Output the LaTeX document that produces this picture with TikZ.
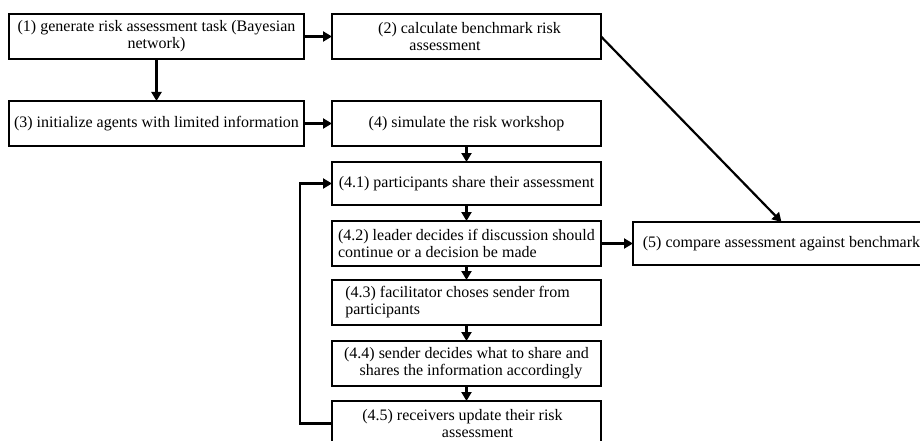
\documentclass[tikz,border=0pt]{standalone}
\usepackage{fontspec}
\setmainfont{Liberation Serif}
\usetikzlibrary{arrows.meta}
\tikzset{
  box/.style={draw=black, line width=2.2pt, fill=white, rectangle, inner sep=0pt, outer sep=0pt,
    minimum height=45pt, font=\fontsize{16}{17}\selectfont},
  arr/.style={draw=black, line width=2.2pt, -{Triangle[length=9pt,width=10pt]}}
}
\begin{document}
\begin{tikzpicture}[x=1pt,y=-1pt]
\useasboundingbox (0,0) rectangle (920,441);
\clip (0,0) rectangle (920,441);
\fill[white] (0,0) rectangle (920,441);
\node[box, minimum width=295pt, align=center] (b1) at (156.5,36.5) {(1) generate risk assessment task (Bayesian\\network)};
\node[box, minimum width=269pt, align=center] (b2) at (466.5,36.5) {\makebox[6pt]{}(2) calculate benchmark risk\\assessment\makebox[43pt]{}};
\node[box, minimum width=295pt, align=center] (b3) at (156.5,123.5) {(3) initialize agents with limited information};
\node[box, minimum width=269pt, align=center] (b4) at (466.5,123.5) {(4) simulate the risk workshop};
\node[box, minimum width=269pt, minimum height=43pt, align=center] (b41) at (466.5,183.5) {(4.1) participants share their assessment};
\node[box, minimum width=269pt, align=left] (b42) at (466.5,243.5) {(4.2) leader decides if discussion should\\continue or a decision be made};
\node[box, minimum width=269pt, align=left] (b43) at (466.5,302.5) {(4.3) facilitator choses sender from\makebox[18pt]{}\\participants};
\node[box, minimum width=269pt, align=center] (b44) at (466.5,363.5) {(4.4) sender decides what to share and\\\makebox[9pt]{}shares the information accordingly};
\node[box, minimum width=269pt, align=center] (b45) at (466.5,423.5) {(4.5) receivers update their risk\makebox[8pt]{}\\\makebox[22pt]{}assessment};
\node[box, minimum width=297pt, minimum height=43pt, align=center] (b5) at (781.5,243.5) {(5) compare assessment against benchmark};
\draw[arr] (b1.east) -- (b2.west);
\draw[arr] (b1.south) -- (b3.north);
\draw[arr] (b3.east) -- (b4.west);
\draw[arr] (b2.east) -- (b5.north);
\draw[arr] (b4.south) -- (b41.north);
\draw[arr] (b41.south) -- (b42.north);
\draw[arr] (b42.south) -- (b43.north);
\draw[arr] (b43.south) -- (b44.north);
\draw[arr] (b44.south) -- (b45.north);
\draw[arr] (b42.east) -- (b5.west);
\draw[arr] (b45.west) -- ++(-32,0) |- (b41.west);
\end{tikzpicture}
\end{document}
